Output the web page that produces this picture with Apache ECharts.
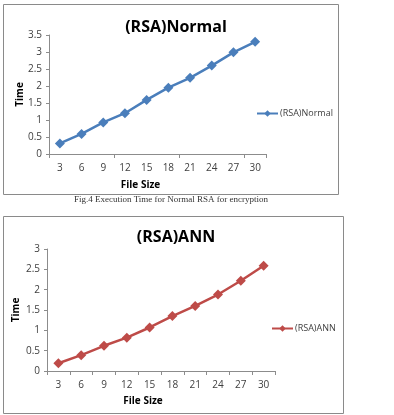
<!DOCTYPE html>
<html>
<head>
<meta charset="utf-8">
<script src="https://cdn.jsdelivr.net/npm/echarts@6/dist/echarts.min.js"></script>
<style>
    html, body { margin: 0; padding: 0; background: #ffffff; }
    #chart { width: 394px; height: 415px; }
</style>
</head>
<body>
<div id="chart"></div>
<script>
// data
const fileSizes = ["3", "6", "9", "12", "15", "18", "21", "24", "27", "30"];
const normalTimes = [0.31, 0.59, 0.93, 1.2, 1.59, 1.95, 2.24, 2.6, 2.99, 3.3];
const annTimes = [0.19, 0.39, 0.62, 0.82, 1.07, 1.35, 1.6, 1.88, 2.22, 2.59];
const normalTicks = [0, 0.5, 1, 1.5, 2, 2.5, 3, 3.5];
const annTicks = [0, 0.5, 1, 1.5, 2, 2.5, 3];

const fontFamily = "'Open Sans', 'Liberation Sans', sans-serif";
const axisGray = "#8c8c8c";
const labelColor = "#404040";

function xAxisFor(gridIndex, tickInterval, nameGap, namePad) {
    return {
        type: "category",
        gridIndex: gridIndex,
        data: fileSizes,
        boundaryGap: true,
        name: "File Size",
        nameLocation: "middle",
        nameGap: nameGap,
        nameMoveOverlap: false,
        nameTextStyle: { fontFamily: fontFamily, fontWeight: "bold", fontSize: 10, color: "#000", padding: namePad },
        axisLine: { lineStyle: { color: axisGray, width: 1 } },
        axisTick: { show: true, interval: tickInterval, length: 4, lineStyle: { color: axisGray } },
        axisLabel: { fontFamily: fontFamily, fontSize: 10, color: labelColor, margin: 9, interval: 0 },
        splitLine: { show: false },
    };
}

function yAxisFor(gridIndex, ticks, nameGap) {
    return {
        type: "value",
        gridIndex: gridIndex,
        min: ticks[0],
        max: ticks[ticks.length - 1],
        interval: ticks[1] - ticks[0],
        name: "Time",
        nameLocation: "middle",
        nameGap: nameGap,
        nameRotate: 90,
        nameMoveOverlap: false,
        nameTextStyle: { fontFamily: fontFamily, fontWeight: "bold", fontSize: 10, color: "#000" },
        axisLine: { show: true, lineStyle: { color: axisGray, width: 1 } },
        axisTick: { show: true, length: 3, lineStyle: { color: axisGray } },
        axisLabel: { fontFamily: fontFamily, fontSize: 10, color: labelColor, margin: 7 },
        splitLine: { show: false },
    };
}

const chart = echarts.init(document.getElementById("chart"), null, { renderer: "canvas" });

chart.setOption({
    animation: false,
    backgroundColor: "#ffffff",
    title: [
        {
            text: "(RSA)Normal",
            left: 171, top: 14, textAlign: "center",
            textStyle: { fontFamily: fontFamily, fontWeight: "bold", fontSize: 16, color: "#000" },
        },
        {
            text: "(RSA)ANN",
            left: 171, top: 224, textAlign: "center",
            textStyle: { fontFamily: fontFamily, fontWeight: "bold", fontSize: 16, color: "#000" },
        },
    ],
    legend: [
        {
            data: ["(RSA)Normal"],
            left: 251, top: 104,
            itemWidth: 21, itemHeight: 8, itemGap: 2,
            textStyle: { fontFamily: fontFamily, fontSize: 9, color: labelColor, padding: [0, 0, 0, -3] },
        },
        {
            data: ["(RSA)ANN"],
            left: 266, top: 319,
            itemWidth: 21, itemHeight: 8, itemGap: 2,
            textStyle: { fontFamily: fontFamily, fontSize: 9, color: labelColor, padding: [0, 0, 0, -3] },
        },
    ],
    grid: [
        { left: 49, top: 35, width: 217, height: 119 },
        { left: 47, top: 249, width: 228, height: 122 },
    ],
    xAxis: [
        xAxisFor(0, 2, 26, [0, 34, 0, 0]),
        xAxisFor(1, 0, 25, [0, 36, 0, 0]),
    ],
    yAxis: [
        yAxisFor(0, normalTicks, 24),
        yAxisFor(1, annTicks, 26),
    ],
    series: [
        {
            name: "(RSA)Normal",
            type: "line",
            xAxisIndex: 0, yAxisIndex: 0,
            data: normalTimes,
            symbol: "diamond", symbolSize: 10,
            itemStyle: { color: "#4a7ebb" },
            lineStyle: { color: "#4a7ebb", width: 2.5 },
        },
        {
            name: "(RSA)ANN",
            type: "line",
            xAxisIndex: 1, yAxisIndex: 1,
            data: annTimes,
            symbol: "diamond", symbolSize: 10,
            itemStyle: { color: "#be4b48" },
            lineStyle: { color: "#be4b48", width: 2.5 },
        },
    ],
    graphic: [
        {
            type: "rect", silent: true, z: -1,
            shape: { x: 3.5, y: 4.5, width: 335, height: 190 },
            style: { fill: "none", stroke: "#8a8a8a", lineWidth: 1 },
        },
        {
            type: "rect", silent: true, z: -1,
            shape: { x: 3.5, y: 216.5, width: 340, height: 197 },
            style: { fill: "none", stroke: "#8a8a8a", lineWidth: 1 },
        },
        {
            type: "text", silent: true,
            x: 171, y: 200,
            style: {
                text: "Fig.4 Execution Time for Normal RSA for encryption",
                font: "9px 'Liberation Serif', serif",
                fill: "#333",
                align: "center", verticalAlign: "middle",
            },
        },
    ],
});

window.onresize = () => {
    chart.resize();
};
</script>
</body>
</html>
